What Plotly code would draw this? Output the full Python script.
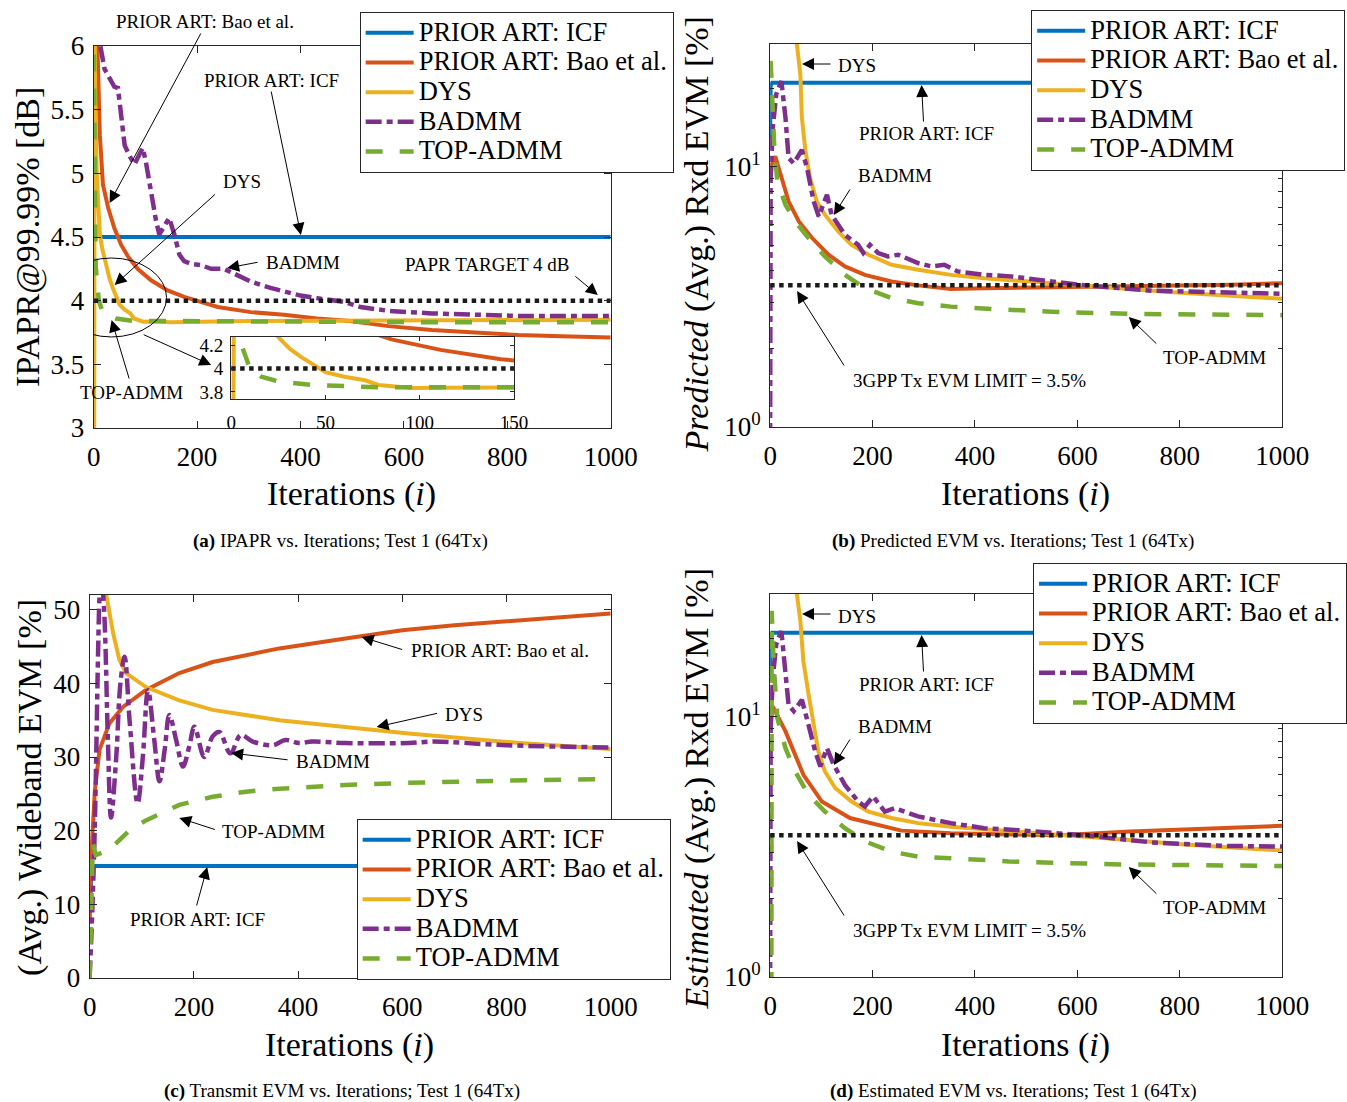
import numpy as np
import plotly.graph_objects as go

W, H = 1347, 1102
FONT = "Liberation Serif"

# ---------------- DATA ----------------
series_names = ["PRIOR ART: ICF", "PRIOR ART: Bao et al.", "DYS", "BADMM", "TOP-ADMM"]

# (a) IPAPR [dB]
a_icf_it = [12, 1000]
a_icf_val = [4.5, 4.5]
a_bao_it = [6, 7, 12, 18, 28, 40, 53, 66, 85, 111, 143, 175, 207, 240, 304, 368, 432, 496, 570, 654, 738, 821, 905, 1000]
a_bao_val = [6.3, 6.05, 5.3, 4.91, 4.73, 4.57, 4.44, 4.35, 4.25, 4.16, 4.08, 4.03, 3.99, 3.95, 3.91, 3.89, 3.86, 3.84, 3.80, 3.77, 3.75, 3.73, 3.72, 3.71]
a_dys_it = [1, 2, 3, 6, 9, 12, 17, 21, 25, 31, 37, 43, 50, 60, 71, 78, 96, 113, 150, 300, 500, 700, 1000]
a_dys_val = [2.9, 6.2, 5.6, 5.0, 4.7, 4.52, 4.4, 4.33, 4.27, 4.17, 4.1, 4.04, 3.97, 3.93, 3.9, 3.86, 3.835, 3.837, 3.83, 3.84, 3.845, 3.85, 3.85]
a_badmm_it = [8, 13, 21, 31, 40, 47, 53, 60, 69, 79, 85, 95, 101, 111, 121, 127, 137, 146, 156, 166, 175, 188, 207, 227, 252, 278, 304, 342, 368, 400, 432, 484, 516, 570, 654, 738, 821, 1000]
a_badmm_val = [6.5, 6.0, 5.82, 5.75, 5.68, 5.67, 5.43, 5.22, 5.14, 5.07, 5.12, 5.2, 5.09, 4.83, 4.62, 4.52, 4.59, 4.65, 4.52, 4.36, 4.31, 4.29, 4.28, 4.25, 4.25, 4.2, 4.15, 4.1, 4.07, 4.04, 4.02, 3.99, 3.95, 3.92, 3.90, 3.89, 3.88, 3.88]
a_top_it = [0, 1, 2, 3, 4, 7, 10, 16, 25, 43, 60, 78, 150, 300, 500, 700, 1000]
a_top_val = [6.2, 5.6, 5.0, 4.6, 4.27, 4.13, 4.0, 3.93, 3.89, 3.86, 3.85, 3.84, 3.84, 3.835, 3.835, 3.83, 3.83]
papr_target_db = 4.0

# (b) Predicted (Avg.) Rxd EVM [%]
b_icf_it = [0, 1, 4, 1000]
b_icf_val = [12.9, 20.5, 21.0, 21.0]
b_bao_it = [0, 3, 10, 23, 36, 56, 82, 114, 146, 185, 237, 289, 353, 418, 470, 550, 680, 800, 900, 1000]
b_bao_val = [8.8, 10.2, 10.96, 9.04, 7.36, 6.16, 5.32, 4.59, 4.14, 3.84, 3.62, 3.5, 3.39, 3.41, 3.42, 3.43, 3.46, 3.49, 3.52, 3.57]
b_dys_it = [50, 52, 59, 62, 69, 78, 91, 107, 133, 159, 192, 237, 289, 353, 418, 470, 550, 635, 720, 810, 900, 1000]
b_dys_val = [35, 29.8, 22.6, 15.4, 11.5, 9.04, 7.36, 6.54, 5.64, 5.01, 4.59, 4.2, 4.02, 3.84, 3.73, 3.66, 3.56, 3.46, 3.37, 3.27, 3.19, 3.11]
b_badmm_it = [0, 1, 5, 12, 22, 30, 36, 46, 62, 72, 85, 95, 101, 111, 120, 146, 172, 182, 195, 211, 230, 250, 289, 315, 340, 366, 418, 470, 530, 615, 745, 870, 1000]
b_badmm_val = [0.9, 9.0, 14, 19, 21.3, 15.4, 10.8, 10.3, 11.6, 9.9, 7.36, 6.44, 6.93, 7.8, 6.54, 5.47, 5.01, 4.66, 5.01, 4.66, 4.52, 4.59, 4.26, 4.14, 4.2, 3.96, 3.84, 3.79, 3.66, 3.5, 3.34, 3.29, 3.25]
b_top_it = [1, 4, 8, 14, 30, 49, 75, 107, 146, 185, 237, 289, 353, 434, 550, 703, 850, 1000]
b_top_val = [25.5, 17, 12, 8.78, 7.14, 6.16, 5.32, 4.52, 3.84, 3.41, 3.13, 2.99, 2.9, 2.84, 2.77, 2.72, 2.7, 2.69]
evm_limit_pct = 3.5

# (c) (Avg.) Wideband EVM [%]
c_icf_it = [1, 4, 1000]
c_icf_val = [10.5, 15.2, 15.2]
c_bao_it = [0, 3, 10, 19, 38, 64, 108, 172, 236, 364, 491, 600, 700, 826, 1000]
c_bao_val = [7.4, 16.5, 25.5, 31, 34.6, 36.8, 39.1, 41.4, 42.9, 44.75, 46.1, 47.2, 47.9, 48.6, 49.5]
c_dys_it = [30, 32, 45, 57, 70, 108, 172, 236, 364, 491, 612, 826, 1000]
c_dys_val = [55, 52, 46.8, 43.2, 41.4, 39.5, 37.7, 36.4, 35.0, 34.1, 33.2, 31.9, 31.1]
c_badmm_it = [0, 5, 10, 16, 19, 22, 25, 29, 35, 41, 51, 59, 67, 77, 92, 102, 112, 124, 134, 144, 153, 166, 179, 191, 201, 220, 236, 249, 270, 290, 313, 351, 376, 402, 427, 491, 612, 660, 800, 1000]
c_badmm_val = [0.2, 9, 21, 43.6, 52, 55, 53, 48, 32.3, 21.8, 30, 40, 43.6, 34.6, 23.7, 30, 39.1, 32.3, 26.7, 31, 35.7, 32.3, 28.7, 31.4, 34.1, 30.0, 32.8, 33.4, 30.5, 33.0, 32.1, 31.6, 32.3, 31.9, 32.1, 31.9, 31.9, 32.1, 31.6, 31.3]
c_top_it = [0, 2, 4, 6, 12, 38, 77, 108, 172, 236, 300, 364, 491, 612, 800, 1000]
c_top_val = [0, 7, 14, 18.3, 16.7, 17.4, 20.1, 21.4, 23.5, 24.6, 25.3, 25.7, 26.2, 26.5, 26.8, 27.0]

# (d) Estimated (Avg.) Rxd EVM [%]
d_icf_it = [0, 1, 4, 1000]
d_icf_val = [13.7, 20.0, 21.0, 21.0]
d_bao_it = [0, 5, 30, 65, 101, 156, 256, 353, 470, 565, 703, 850, 1000]
d_bao_val = [9.0, 10.96, 8.78, 5.98, 4.72, 4.08, 3.65, 3.57, 3.53, 3.5, 3.62, 3.72, 3.81]
d_dys_it = [50, 52, 59, 65, 75, 85, 94, 107, 127, 159, 192, 237, 289, 353, 421, 470, 583, 700, 816, 900, 1000]
d_dys_val = [35, 29.8, 23.3, 16.3, 12.2, 9.3, 7.36, 6.16, 5.32, 4.72, 4.32, 4.08, 3.9, 3.78, 3.7, 3.64, 3.5, 3.36, 3.22, 3.14, 3.06]
d_badmm_it = [0, 1, 5, 12, 22, 30, 36, 46, 62, 75, 88, 98, 111, 124, 146, 172, 185, 201, 224, 243, 289, 353, 418, 470, 615, 745, 880, 1000]
d_badmm_val = [0.9, 9.0, 14, 19, 21.3, 15.4, 11.1, 10.5, 11.6, 9.3, 7.36, 6.44, 7.57, 6.54, 5.47, 4.72, 4.52, 4.94, 4.32, 4.45, 4.14, 3.9, 3.73, 3.68, 3.5, 3.29, 3.19, 3.17]
d_top_it = [2.5, 3, 7, 14, 30, 49, 75, 107, 146, 185, 237, 289, 353, 466, 667, 850, 1000]
d_top_val = [0.9, 25.5, 15.8, 9.9, 7.57, 6.16, 5.01, 4.32, 3.73, 3.32, 3.03, 2.9, 2.86, 2.78, 2.71, 2.68, 2.67]

x_ticks = [0, 200, 400, 600, 800, 1000]
a_y_ticks = [3, 3.5, 4, 4.5, 5, 5.5, 6]
a_y_ticktext = ["3", "3.5", "4", "4.5", "5", "5.5", "6"]
c_y_ticks = [0, 10, 20, 30, 40, 50]
log_ticks = [1, 10]
log_ticktext = ["10<sup>0</sup>", "10<sup>1</sup>"]
inset_x_ticks = [0, 50, 100, 150]
inset_y_ticks = [3.8, 4, 4.2]
inset_y_ticktext = ["3.8", "4", "4.2"]

# ---------------- STYLE ----------------
COLORS = ["#0072BD", "#D95319", "#EDB120", "#7E2F8E", "#77AC30"]
LINES = [dict(width=4, dash="solid"),
         dict(width=4, dash="solid"),
         dict(width=4, dash="solid"),
         dict(width=4.5, dash="16px,5px,6px,5px"),
         dict(width=4.5, dash="17px,17px")]
AX = "#262626"
LEG_TEXT = '<span style="font-size:26.5px">{}</span>'


def PX(x):
    return x / W


def PY(y):
    return 1 - y / H


fig = go.Figure()

panels = [
    ("x", "y", "legend", [(a_icf_it, a_icf_val), (a_bao_it, a_bao_val), (a_dys_it, a_dys_val), (a_badmm_it, a_badmm_val), (a_top_it, a_top_val)], papr_target_db),
    ("x2", "y2", "legend2", [(b_icf_it, b_icf_val), (b_bao_it, b_bao_val), (b_dys_it, b_dys_val), (b_badmm_it, b_badmm_val), (b_top_it, b_top_val)], evm_limit_pct),
    ("x3", "y3", "legend3", [(c_icf_it, c_icf_val), (c_bao_it, c_bao_val), (c_dys_it, c_dys_val), (c_badmm_it, c_badmm_val), (c_top_it, c_top_val)], None),
    ("x4", "y4", "legend4", [(d_icf_it, d_icf_val), (d_bao_it, d_bao_val), (d_dys_it, d_dys_val), (d_badmm_it, d_badmm_val), (d_top_it, d_top_val)], evm_limit_pct),
]

for xa, ya, lg, series, limit in panels:
    for k, (it, val) in enumerate(series):
        shape = "spline" if (xa == "x3" and k == 3) else "linear"
        fig.add_trace(go.Scatter(x=it, y=val, mode="lines", name=LEG_TEXT.format(series_names[k]),
                                 line=dict(color=COLORS[k], shape=shape, **LINES[k]),
                                 xaxis=xa, yaxis=ya, legend=lg, showlegend=True))
    if limit is not None:
        fig.add_trace(go.Scatter(x=[0, 1000], y=[limit, limit], mode="lines",
                                 line=dict(color="#1a1a1a", width=4.5, dash="4.5px,4.5px"),
                                 xaxis=xa, yaxis=ya, showlegend=False, hoverinfo="skip"))

# inset of (a)
inset_series = [(a_bao_it, a_bao_val, 1), (a_dys_it, a_dys_val, 2), (a_top_it, a_top_val, 4)]
for it, val, k in inset_series:
    fig.add_trace(go.Scatter(x=it, y=val, mode="lines", line=dict(color=COLORS[k], **LINES[k]),
                             xaxis="x5", yaxis="y5", showlegend=False))
fig.add_trace(go.Scatter(x=[0, 150], y=[papr_target_db, papr_target_db], mode="lines",
                         line=dict(color="#1a1a1a", width=4.5, dash="4.5px,4.5px"),
                         xaxis="x5", yaxis="y5", showlegend=False))

# ---------------- AXES ----------------
tickfont = dict(family=FONT, size=27, color="black")


def xax(l, r, anchor, **kw):
    d = dict(domain=[PX(l), PX(r)], anchor=anchor, range=[0, 1000], tickvals=x_ticks,
             showline=True, linecolor=AX, linewidth=1, mirror="ticks", ticks="inside",
             ticklen=7, tickcolor=AX, showgrid=False, zeroline=False, tickfont=tickfont,
             ticklabelstandoff=5, automargin=False)
    d.update(kw)
    return d


def yax(t, b, anchor, **kw):
    d = dict(domain=[PY(b), PY(t)], anchor=anchor, showline=True, linecolor=AX, linewidth=1,
             mirror="ticks", ticks="inside", ticklen=7, tickcolor=AX, showgrid=False,
             zeroline=False, tickfont=tickfont, ticklabelstandoff=3, automargin=False)
    d.update(kw)
    return d


minor_log = dict(ticks="inside", ticklen=4, tickcolor=AX, tickvals=[2, 3, 4, 5, 6, 7, 8, 9, 20])

fig.update_layout(
    xaxis=xax(94, 613, "y"),
    yaxis=yax(46, 428, "x", range=[3, 6], tickvals=a_y_ticks, ticktext=a_y_ticktext),
    xaxis2=xax(773, 1287, "y2"),
    yaxis2=yax(44, 427, "x2", type="log", range=[0, np.log10(29.6)], tickvals=log_ticks,
               ticktext=log_ticktext, minor=minor_log),
    xaxis3=xax(90, 613, "y3"),
    yaxis3=yax(595, 978, "x3", range=[0, 52], tickvals=c_y_ticks),
    xaxis4=xax(773, 1287, "y4"),
    yaxis4=yax(594, 977, "x4", type="log", range=[0, np.log10(29.6)], tickvals=log_ticks,
               ticktext=log_ticktext, minor=minor_log),
    xaxis5=xax(232, 516, "y5", range=[0, 150], tickvals=inset_x_ticks,
               tickfont=dict(family=FONT, size=19, color="black"), ticklen=4, ticklabelstandoff=6),
    yaxis5=yax(337, 399, "x5", range=[3.74, 4.27], tickvals=inset_y_ticks, ticktext=inset_y_ticktext,
               tickfont=dict(family=FONT, size=19, color="black"), ticklen=4),
)

# ---------------- LEGENDS ----------------
def legend(l, t):
    return dict(x=PX(l), y=PY(t), xanchor="left", yanchor="top", bgcolor="white",
                bordercolor=AX, borderwidth=1, font=dict(family=FONT, size=20.5, color="black"),
                itemwidth=48, tracegroupgap=0, traceorder="normal")


fig.update_layout(legend=legend(361, 12), legend2=legend(1035, 10),
                  legend3=legend(358, 819), legend4=legend(1037, 563))

# ---------------- ANNOTATIONS ----------------
ann = []


def text(x, y, s, size=19, angle=0):
    ann.append(dict(x=PX(x), y=PY(y), xref="paper", yref="paper", text=s, showarrow=False,
                    font=dict(family=FONT, size=size, color="black"), xanchor="center",
                    yanchor="middle", textangle=angle))


def arrow(tx, ty, hx, hy):
    ann.append(dict(x=PX(hx), y=PY(hy), xref="paper", yref="paper", text="", showarrow=True,
                    ax=tx - hx, ay=ty - hy, arrowhead=2, arrowsize=2.4, arrowwidth=1,
                    arrowcolor="black", standoff=0, startstandoff=0))


# axis titles
for cx, cy in [(353, 494), (1029, 494), (351, 1045), (1029, 1045)]:
    text(cx, cy, "Iterations (<i>i</i>)", size=34)
text(28, 237, "IPAPR@99.99% [dB]", size=34, angle=-90)
text(700, 234, "<i>Predicted</i> (Avg.) Rxd EVM [%]", size=34, angle=-90)
text(30, 787, "(Avg.) Wideband EVM [%]", size=34, angle=-90)
text(700, 789, "<i>Estimated</i> (Avg.) Rxd EVM [%]", size=34, angle=-90)

# captions
text(342, 541, "<b>(a)</b> IPAPR vs. Iterations; Test 1 (64Tx)", size=19)
text(1017, 541, "<b>(b)</b> Predicted EVM vs. Iterations; Test 1 (64Tx)", size=19)
text(343, 1091, "<b>(c)</b> Transmit EVM vs. Iterations; Test 1 (64Tx)", size=19)
text(1017, 1091, "<b>(d)</b> Estimated EVM vs. Iterations; Test 1 (64Tx)", size=19)

# (a)
text(206, 22, "PRIOR ART: Bao et al.")
arrow(202, 32, 110, 203)
text(273, 80, "PRIOR ART: ICF")
arrow(272, 90, 302, 235)
text(243, 182, "DYS")
arrow(217, 193, 115, 285)
text(304, 262, "BADMM")
arrow(260, 262, 228, 268)
text(489, 264, "PAPR TARGET 4 dB")
arrow(576, 275, 600, 295)
text(132, 392, "TOP-ADMM")
arrow(130, 380, 112, 320)
arrow(143, 334, 212, 365)

# (b) and (d)
for dy in (0, 550):
    text(860, 66 + dy, "DYS")
    arrow(835, 64 + dy, 805, 64 + dy)
    text(930, 134 + dy, "PRIOR ART: ICF")
    arrow(927, 123 + dy, 925, 85 + dy)
    text(898, 176 + dy, "BADMM")
    arrow(854, 188 + dy, 837, 215 + dy)
    text(973, 380 + dy, "3GPP Tx EVM LIMIT = 3.5%")
    arrow(848, 367 + dy, 800, 291 + dy)
    text(1219, 357 + dy, "TOP-ADMM")
    arrow(1162, 345 + dy, 1133, 317 + dy)

# (c)
text(502, 650, "PRIOR ART: Bao et al.")
arrow(405, 650, 363, 637)
text(466, 714, "DYS")
arrow(440, 713, 378, 727)
text(334, 761, "BADMM")
arrow(290, 760, 232, 753)
text(275, 831, "TOP-ADMM")
arrow(217, 830, 180, 818)
text(198, 919, "PRIOR ART: ICF")
arrow(197, 907, 208, 867)

shapes = [dict(type="circle", xref="x", yref="y", x0=-72, x1=141, y0=3.715, y1=4.335,
               line=dict(color="black", width=1))]

fig.update_layout(annotations=ann, shapes=shapes, width=W, height=H,
                  margin=dict(l=0, r=0, t=0, b=0), paper_bgcolor="white", plot_bgcolor="white",
                  font=dict(family=FONT, color="black"))

fig.write_html("out.html", config={"displayModeBar": False},
               post_script="document.body.style.margin='0px';document.body.style.padding='0px';")
